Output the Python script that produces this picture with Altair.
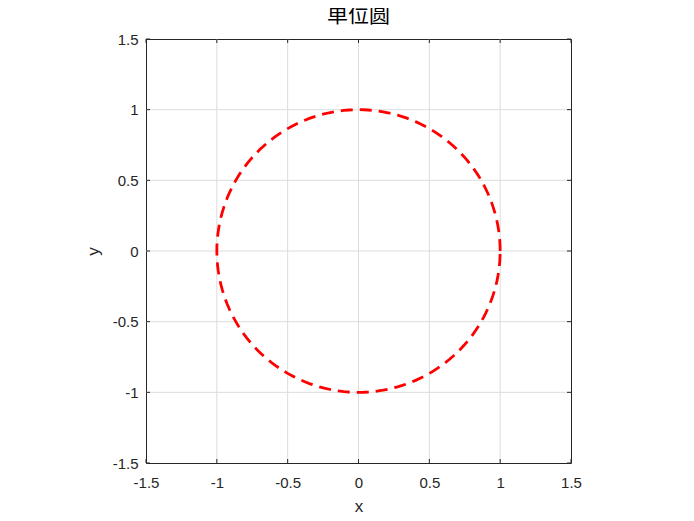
import altair as alt
import numpy as np
import pandas as pd

# unit circle sampled by angle (degrees)
theta_deg = list(range(0, 361, 2))
tick_values = [-1.5, -1, -0.5, 0, 0.5, 1, 1.5]
grid_values = [-1, -0.5, 0, 0.5, 1]

theta = np.deg2rad(np.array(theta_deg, dtype=float))
df = pd.DataFrame({"i": np.arange(len(theta_deg)), "x": np.cos(theta), "y": np.sin(theta)})
ticks = pd.DataFrame({"x": tick_values, "y": tick_values})
grid = pd.DataFrame({"x": grid_values, "y": grid_values})

W, H = 425, 424
dom = [-1.5, 1.5]
label_expr = "'' + datum.value"
font = "Liberation Sans"
dark = "#262626"

xaxis = alt.Axis(values=tick_values, title="x", grid=False, ticks=False, domain=False,
                 labelExpr=label_expr, labelFontSize=15, labelFont=font, labelColor=dark,
                 labelPadding=12, titleFontSize=17, titleFont=font, titleFontWeight="normal",
                 titleColor=dark, titlePadding=8, labelFlush=False)
yaxis = alt.Axis(values=tick_values, title="y", grid=False, ticks=False, domain=False,
                 labelExpr=label_expr, labelFontSize=15, labelFont=font, labelColor=dark,
                 labelPadding=8, titleFontSize=17, titleFont=font, titleFontWeight="normal",
                 titleColor=dark, titlePadding=10, labelFlush=False)

sx = alt.Scale(domain=dom, nice=False, zero=False)
sy = alt.Scale(domain=dom, nice=False, zero=False)

gx = alt.Chart(grid).mark_rule(color="#dcdcdc", strokeWidth=1).encode(
    x=alt.X("x:Q", scale=sx, axis=xaxis), y=alt.value(0), y2=alt.value(H))
gy = alt.Chart(grid).mark_rule(color="#dcdcdc", strokeWidth=1).encode(
    y=alt.Y("y:Q", scale=sy, axis=yaxis), x=alt.value(0), x2=alt.value(W))

circle = alt.Chart(df).mark_line(color="#ff0000", strokeWidth=2.8, strokeDash=[12, 7],
                                 clip=True).encode(
    x=alt.X("x:Q", scale=sx),
    y=alt.Y("y:Q", scale=sy),
    order="i:Q",
)

tk = alt.Chart(ticks)
bottom = tk.mark_rule(color=dark, strokeWidth=1).encode(
    x=alt.X("x:Q", scale=sx), y=alt.value(H), y2=alt.value(H - 4))
top = tk.mark_rule(color=dark, strokeWidth=1).encode(
    x=alt.X("x:Q", scale=sx), y=alt.value(0), y2=alt.value(4))
left = tk.mark_rule(color=dark, strokeWidth=1).encode(
    y=alt.Y("y:Q", scale=sy), x=alt.value(0), x2=alt.value(4))
right = tk.mark_rule(color=dark, strokeWidth=1).encode(
    y=alt.Y("y:Q", scale=sy), x=alt.value(W), x2=alt.value(W - 4))

chart = alt.layer(gx, gy, circle, bottom, top, left, right).properties(
    width=W, height=H,
    title=alt.TitleParams("单位圆", font="Noto Sans CJK SC", fontSize=21, fontWeight="normal",
                          color="#000000", offset=6, anchor="middle"),
    autosize=alt.AutoSizeParams(type="none"),
    padding={"left": 138, "top": 31, "right": 100, "bottom": 55},
    background="white",
).configure_view(stroke=dark, strokeWidth=1)

chart.save("out.html", embed_options={"renderer": "svg", "actions": False})
